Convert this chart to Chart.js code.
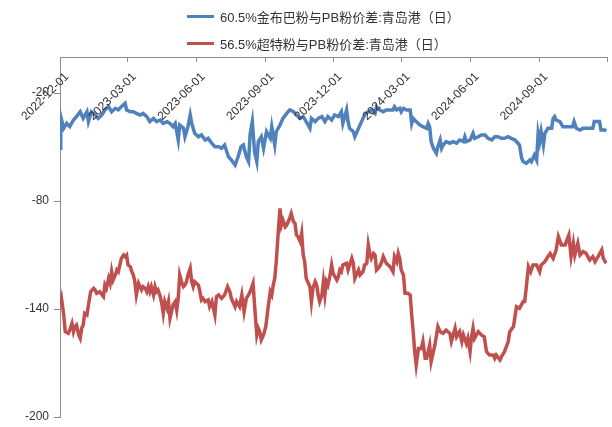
<!DOCTYPE html>
<html>
<head>
<meta charset="utf-8">
<script src="https://cdn.jsdelivr.net/npm/chart.js@4.4.0/dist/chart.umd.min.js"></script>
<style>
    html, body { margin: 0; padding: 0; background: #fff; }
    #wrap { position: relative; width: 612px; height: 427px; }
    #chart { position: absolute; left: 0; top: 0; }
    .legend-row {
        position: absolute;
        left: 187px;
        height: 20px;
        display: flex;
        align-items: center;
        font: 13px "Liberation Sans", "Noto Sans CJK SC", sans-serif;
        color: #333;
        white-space: nowrap;
    }
    .legend-row .swatch { width: 27px; height: 3px; margin-right: 6px; }
</style>
</head>
<body>
<div id="wrap">
    <canvas id="chart" width="612" height="427"></canvas>
    <div class="legend-row" id="legendBlue" style="top:6px"><span class="swatch"></span><span class="label"></span></div>
    <div class="legend-row" id="legendRed" style="top:33px"><span class="swatch"></span><span class="label"></span></div>
</div>
<script>
// days counted from 2022-12-01
const seriesNames = ['60.5%金布巴粉与PB粉价差:青岛港（日）', '56.5%超特粉与PB粉价差:青岛港（日）'];
const seriesColors = ['#4f81bd', '#c0504d'];

const blueDays = [0, 1, 5, 9, 13, 18, 22, 27, 31, 36, 38, 42, 47, 51, 56, 60, 65, 69, 74, 78, 82, 87, 89, 94, 98, 102, 107, 111, 116, 120, 125, 129, 134, 138, 143, 147, 151, 154, 158, 160, 165, 167, 171, 174, 176, 180, 185, 189, 194, 198, 203, 207, 212, 216, 220, 225, 229, 234, 238, 242, 245, 249, 252, 254, 257, 260, 263, 265, 269, 272, 276, 281, 283, 287, 289, 294, 298, 303, 307, 312, 316, 321, 325, 329, 334, 336, 341, 345, 350, 354, 358, 363, 367, 372, 376, 378, 383, 385, 387, 392, 394, 399, 403, 407, 412, 416, 421, 423, 427, 432, 436, 441, 445, 447, 450, 454, 456, 459, 463, 468, 470, 472, 476, 481, 485, 490, 492, 494, 496, 499, 503, 505, 508, 510, 512, 516, 521, 525, 530, 534, 539, 541, 543, 548, 552, 554, 559, 563, 568, 572, 577, 581, 585, 590, 594, 599, 603, 608, 612, 614, 617, 619, 623, 628, 630, 634, 637, 639, 641, 643, 646, 648, 652, 657, 659, 661, 663, 668, 672, 679, 685, 687, 690, 695, 699, 706, 712, 714, 721, 723, 728, 730];
const blueValues = [-50.7, -33.1, -39.6, -36.9, -38.7, -35.0, -33.1, -30.4, -34.1, -30.4, -35.9, -30.4, -32.2, -34.1, -32.2, -29.4, -27.6, -30.4, -28.5, -29.4, -27.6, -25.7, -29.4, -30.4, -30.4, -31.3, -32.2, -31.3, -33.1, -35.9, -34.1, -35.9, -35.0, -36.9, -35.9, -36.9, -38.7, -36.9, -46.1, -37.8, -39.6, -44.3, -38.7, -32.2, -36.9, -42.4, -44.3, -43.3, -46.1, -45.2, -48.0, -49.8, -49.8, -50.7, -48.9, -55.4, -57.2, -60.0, -55.4, -49.8, -48.9, -55.4, -58.1, -43.3, -35.9, -52.6, -58.1, -47.0, -44.3, -50.7, -41.5, -45.2, -38.7, -48.9, -41.5, -37.8, -34.1, -31.3, -29.4, -30.4, -32.2, -34.1, -33.1, -35.9, -39.6, -34.1, -35.9, -34.1, -33.1, -35.9, -33.1, -35.0, -32.2, -33.1, -30.4, -36.9, -29.4, -35.9, -39.6, -41.5, -44.3, -39.6, -35.9, -32.2, -30.4, -29.4, -31.3, -27.6, -29.4, -30.4, -29.4, -29.4, -29.4, -27.6, -29.4, -28.5, -30.4, -28.5, -29.4, -29.4, -36.9, -34.1, -35.9, -37.8, -38.7, -39.6, -36.9, -38.7, -47.0, -50.7, -53.5, -49.8, -46.1, -50.7, -48.9, -47.0, -47.9, -47.0, -47.9, -46.1, -47.0, -44.3, -47.0, -46.1, -42.4, -45.2, -44.3, -43.3, -43.3, -45.2, -46.1, -44.3, -44.3, -45.2, -45.2, -44.3, -45.2, -46.1, -47.9, -48.9, -56.3, -58.1, -59.1, -57.2, -58.1, -54.4, -57.2, -42.4, -47.0, -41.5, -48.9, -42.4, -39.6, -39.6, -34.1, -33.1, -35.0, -35.9, -38.7, -38.7, -38.7, -35.9, -39.6, -40.6, -39.6, -39.6, -39.6, -35.9, -35.9, -40.6, -40.6, -41.1];

const redDays = [0, 2, 5, 7, 11, 13, 16, 18, 20, 22, 25, 27, 29, 31, 33, 36, 38, 41, 45, 47, 49, 53, 58, 60, 62, 65, 67, 69, 71, 74, 76, 78, 80, 82, 85, 87, 89, 91, 94, 96, 98, 100, 102, 105, 107, 109, 111, 114, 116, 118, 120, 122, 125, 127, 129, 131, 134, 136, 138, 140, 143, 145, 147, 149, 151, 154, 156, 158, 160, 163, 165, 167, 169, 171, 174, 176, 178, 180, 185, 187, 189, 191, 194, 198, 200, 203, 207, 209, 212, 216, 220, 224, 227, 229, 234, 236, 240, 243, 246, 249, 252, 254, 258, 260, 263, 265, 267, 269, 272, 275, 278, 281, 283, 285, 287, 289, 292, 294, 296, 298, 301, 303, 307, 309, 312, 314, 316, 318, 321, 323, 325, 327, 329, 334, 336, 338, 341, 343, 345, 347, 350, 352, 354, 356, 358, 361, 363, 365, 370, 372, 374, 376, 378, 383, 385, 390, 392, 394, 396, 399, 401, 405, 407, 410, 412, 414, 416, 419, 421, 423, 427, 430, 432, 436, 441, 445, 447, 450, 452, 454, 456, 459, 461, 465, 468, 470, 472, 474, 476, 479, 483, 485, 488, 490, 494, 496, 501, 505, 508, 512, 516, 521, 523, 528, 530, 534, 537, 539, 543, 545, 548, 550, 552, 554, 559, 563, 567, 570, 574, 579, 581, 583, 588, 590, 594, 599, 601, 606, 610, 614, 619, 621, 623, 626, 629, 632, 637, 641, 643, 648, 652, 655, 659, 663, 666, 670, 675, 680, 683, 686, 688, 692, 695, 699, 703, 708, 712, 715, 719, 724, 726, 730];
const redValues = [-137.8, -134.1, -143.3, -152.6, -153.5, -151.7, -148.0, -152.6, -149.8, -148.9, -154.4, -156.3, -150.7, -148.9, -142.4, -143.3, -137.8, -130.4, -128.5, -129.4, -131.3, -130.4, -133.1, -126.7, -128.5, -123.0, -125.7, -119.3, -123.9, -121.1, -118.3, -119.3, -115.6, -111.9, -110.0, -110.9, -110.0, -115.6, -116.5, -119.3, -121.1, -124.8, -132.2, -125.7, -127.6, -129.4, -127.6, -128.5, -130.4, -127.6, -130.4, -127.6, -132.2, -127.6, -130.4, -129.4, -133.1, -136.9, -142.4, -135.9, -139.6, -135.9, -145.2, -141.5, -137.8, -135.9, -140.6, -134.1, -121.1, -125.7, -127.6, -126.7, -124.8, -121.1, -117.4, -124.8, -127.6, -124.8, -126.7, -130.4, -135.0, -134.1, -135.9, -135.0, -138.7, -135.9, -143.3, -133.1, -132.2, -134.1, -132.2, -127.6, -130.4, -134.1, -138.7, -135.9, -138.7, -132.2, -141.5, -134.1, -132.2, -130.4, -125.7, -137.8, -154.4, -150.7, -152.6, -157.2, -154.4, -149.8, -139.6, -130.4, -132.2, -126.7, -123.0, -113.7, -95.2, -84.1, -93.3, -90.6, -94.3, -93.3, -89.6, -86.9, -91.5, -92.4, -98.9, -99.8, -102.6, -98.0, -110.0, -113.7, -123.0, -127.6, -135.9, -128.5, -124.8, -126.7, -132.2, -135.9, -132.2, -124.8, -132.2, -124.8, -126.7, -121.1, -115.6, -120.2, -123.9, -122.0, -118.3, -119.3, -115.6, -114.6, -118.3, -111.9, -114.6, -123.0, -121.1, -118.3, -121.1, -119.3, -115.6, -114.6, -104.4, -109.1, -111.9, -109.1, -110.0, -118.3, -116.5, -113.7, -110.9, -114.6, -116.5, -119.3, -110.9, -113.7, -109.1, -111.9, -118.3, -121.1, -131.3, -131.3, -132.2, -143.3, -152.6, -163.7, -171.1, -161.9, -161.9, -158.1, -167.4, -167.4, -160.0, -169.3, -160.0, -149.8, -152.6, -153.5, -151.7, -153.5, -158.1, -150.7, -155.4, -152.6, -158.1, -154.4, -159.1, -156.3, -163.7, -155.4, -150.7, -156.3, -152.6, -154.4, -155.4, -163.7, -165.6, -165.6, -167.4, -165.6, -168.3, -166.5, -163.7, -158.1, -152.6, -149.8, -138.7, -139.6, -135.9, -135.9, -128.5, -116.5, -119.3, -115.6, -115.6, -119.3, -115.6, -113.7, -110.9, -109.1, -111.9, -107.2, -99.8, -104.4, -104.4, -98.9, -110.9, -103.5, -110.0, -103.5, -110.0, -108.1, -109.1, -112.8, -110.9, -113.7, -110.9, -107.2, -111.9, -114.6];

const xStartDate = '2022-12-01';
const xEndDate = '2024-12-01';
const xTickLabels = ['2022-12-01', '2023-03-01', '2023-06-01', '2023-09-01', '2023-12-01', '2024-03-01', '2024-06-01', '2024-09-01'];
const yTicks = [-200, -140, -80, -20];

const dayOf = s => Math.round((Date.parse(s) - Date.parse(xStartDate)) / 86400000);
const axisGray = '#8c8c8c';
const textColor = '#333';

// legend rows
['legendBlue', 'legendRed'].forEach((id, i) => {
    const row = document.getElementById(id);
    row.querySelector('.swatch').style.background = seriesColors[i];
    row.querySelector('.label').textContent = seriesNames[i];
});

// top date axis: tick marks pointing into the plot and slanted labels below the line
const topAxis = {
    id: 'topAxis',
    afterDraw(chart) {
        const { ctx, chartArea } = chart;
        const x = chart.scales.x;
        const tickDays = xTickLabels.map(dayOf).concat(dayOf(xEndDate));
        ctx.save();
        ctx.strokeStyle = axisGray;
        ctx.lineWidth = 1;
        tickDays.forEach(d => {
            const px = Math.round(x.getPixelForValue(d)) + 0.5;
            ctx.beginPath();
            ctx.moveTo(px, chartArea.top);
            ctx.lineTo(px, chartArea.top + 5);
            ctx.stroke();
        });
        ctx.fillStyle = textColor;
        ctx.font = '12px "Liberation Sans", Arial, sans-serif';
        ctx.textAlign = 'right';
        ctx.textBaseline = 'middle';
        xTickLabels.forEach(label => {
            const px = x.getPixelForValue(dayOf(label));
            ctx.save();
            ctx.translate(px + 7, chartArea.top + 18);
            ctx.rotate(-Math.PI / 4);
            ctx.fillText(label, 0, 0);
            ctx.restore();
        });
        ctx.restore();
    }
};

const toPoints = (days, values) => days.map((d, i) => ({ x: d, y: values[i] }));

new Chart(document.getElementById('chart'), {
    type: 'line',
    data: {
        datasets: [
            {
                label: seriesNames[0],
                data: toPoints(blueDays, blueValues),
                borderColor: seriesColors[0],
                borderWidth: 3.5,
                pointRadius: 0,
                tension: 0,
                fill: false
            },
            {
                label: seriesNames[1],
                data: toPoints(redDays, redValues),
                borderColor: seriesColors[1],
                borderWidth: 3.5,
                pointRadius: 0,
                tension: 0,
                fill: false
            }
        ]
    },
    options: {
        responsive: false,
        animation: false,
        devicePixelRatio: 1,
        layout: { padding: { top: 57, right: 5, bottom: 10, left: 0 } },
        plugins: {
            legend: { display: false },
            tooltip: { enabled: false }
        },
        scales: {
            x: {
                type: 'linear',
                position: 'top',
                min: 0,
                max: dayOf(xEndDate),
                grid: { display: false },
                border: { display: true, color: axisGray, width: 1 },
                ticks: { display: false },
                afterFit: scale => { scale.height = 0; }
            },
            y: {
                position: 'left',
                min: -200,
                max: 0,
                afterBuildTicks: axis => { axis.ticks = yTicks.map(v => ({ value: v })); },
                grid: { display: true, drawOnChartArea: false, drawTicks: true, tickLength: 6, color: axisGray },
                border: { display: true, color: axisGray, width: 1 },
                ticks: {
                    color: textColor,
                    padding: 5,
                    font: { size: 12, family: '"Liberation Sans", Arial, sans-serif' }
                },
                afterFit: scale => {
                    scale.width = 60;
                    scale.paddingTop = 0;
                    scale.paddingBottom = 0;
                }
            }
        }
    },
    plugins: [topAxis]
});
</script>
</body>
</html>
